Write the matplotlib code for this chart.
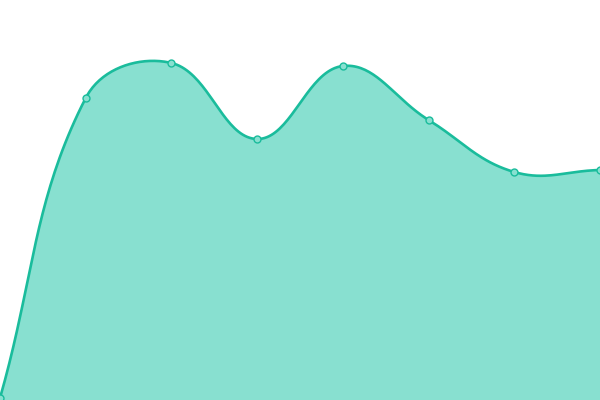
import numpy as np
import matplotlib
matplotlib.use('Agg')
from matplotlib import pyplot as plt

# chart data
xs = [0, 1, 2, 3, 4, 5, 6, 7]
values = [2, 302, 337, 261, 334, 280, 228, 230]

lineColor = '#1abc9c'
fillColor = '#88e0d0'
tension = 0.4

def splineCurve(x, y, t, sx, sy, steps=40):
	# bezier spline built on screen distances, like chart.js
	px = np.asarray(x, float) * sx
	py = np.asarray(y, float) * sy
	n = len(px)
	cpPrev = []
	cpNext = []
	for i in range(n):
		a = max(i - 1, 0)
		b = min(i + 1, n - 1)
		d01 = np.hypot(px[i] - px[a], py[i] - py[a])
		d12 = np.hypot(px[b] - px[i], py[b] - py[i])
		s01 = d01 / (d01 + d12)
		s12 = d12 / (d01 + d12)
		dx = px[b] - px[a]
		dy = py[b] - py[a]
		cpPrev.append((px[i] - t * s01 * dx, py[i] - t * s01 * dy))
		cpNext.append((px[i] + t * s12 * dx, py[i] + t * s12 * dy))
	outX = []
	outY = []
	for i in range(n - 1):
		u = np.linspace(0, 1, steps, endpoint=(i == n - 2))[:, None]
		p0 = np.array([px[i], py[i]])
		p1 = np.array(cpNext[i])
		p2 = np.array(cpPrev[i + 1])
		p3 = np.array([px[i + 1], py[i + 1]])
		pts = (1 - u)**3 * p0 + 3 * (1 - u)**2 * u * p1 + 3 * (1 - u) * u**2 * p2 + u**3 * p3
		outX.append(pts[:, 0] / sx)
		outY.append(pts[:, 1] / sy)
	return np.concatenate(outX), np.concatenate(outY)

fig = plt.figure(figsize=(6, 4), dpi=100)
ax = fig.add_axes([0, 0, 1, 1])
cx, cy = splineCurve(xs, values, tension, 600 / 7, 1.0)
ax.fill_between(cx, 0, cy, color=fillColor, linewidth=0)
ax.plot(cx, cy, color=lineColor, linewidth=1.9, solid_capstyle='round')
ax.plot(xs, values, 'o', markersize=5, markerfacecolor=fillColor, markeredgecolor=lineColor, markeredgewidth=1)
ax.set_xlim(0, 7)
ax.set_ylim(0, 400)
ax.axis('off')
fig.savefig('out.png', dpi=100)
